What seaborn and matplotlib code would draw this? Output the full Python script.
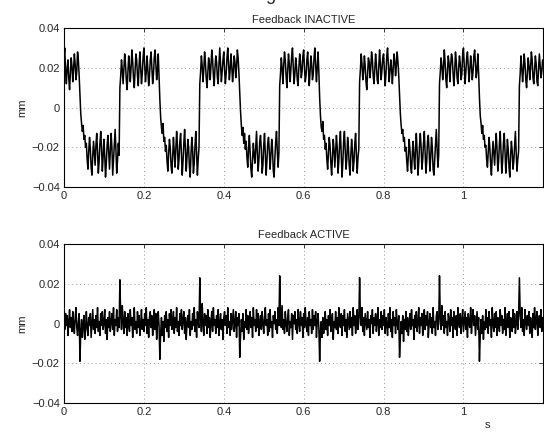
import numpy as np
import seaborn as sns
import matplotlib.pyplot as plt

# sampled every 2 ms, values read in micrometres
dt = 0.002

inactive_um = [
    26, 30, 18, 12, 20, 24, 15, 9, 17, 25,
    21, 13, 19, 27, 22, 14, 18, 28, 24, 16,
    6, -3, -8, -12, -9, -16, -14, -20, -18, -26,
    -31, -22, -15, -21, -30, -34, -24, -17, -23, -29,
    -19, -13, -22, -33, -27, -18, -12, -20, -32, -25,
    -16, -24, -35, -28, -19, -14, -23, -31, -22, -13,
    -20, -34, -26, -17, -11, -21, -33, -27, -18, -24,
    10, 16, 24, 19, 12, 20, 27, 22, 14, 9,
    18, 26, 21, 13, 20, 29, 23, 15, 10, 19,
    27, 24, 16, 11, 21, 28, 20, 12, 17, 25,
    30, 22, 13, 18, 26, 19, 11, 16, 24, 28,
    20, 12, 17, 25, 29, 21, 14, 19, 27, 15,
    4, -5, -10, -13, -8, -17, -15, -22, -19, -27,
    -32, -23, -16, -20, -29, -33, -25, -15, -22, -30,
    -21, -12, -19, -31, -26, -17, -13, -24, -34, -27,
    -18, -11, -22, -32, -25, -16, -20, -30, -35, -23,
    -15, -21, -33, -28, -19, -12, -23, -34, -26, -20,
    12, 18, 26, 21, 13, 19, 28, 23, 15, 10,
    17, 25, 22, 14, 21, 29, 24, 16, 11, 20,
    26, 23, 15, 12, 22, 30, 21, 13, 18, 24,
    28, 19, 12, 17, 25, 30, 22, 14, 19, 27,
    21, 13, 18, 26, 23, 15, 20, 29, 25, 17,
    7, -2, -9, -14, -10, -18, -13, -21, -17, -25,
    -30, -21, -14, -22, -31, -35, -26, -18, -24, -28,
    -20, -12, -23, -32, -26, -17, -14, -21, -33, -29,
    -19, -13, -24, -34, -27, -18, -15, -22, -31, -24,
    -16, -21, -32, -35, -25, -17, -12, -22, -30, -23,
    11, 17, 25, 20, 12, 21, 28, 24, 16, 10,
    18, 27, 22, 13, 19, 26, 30, 20, 12, 17,
    25, 21, 14, 11, 20, 27, 23, 15, 18, 26,
    29, 20, 13, 16, 24, 28, 19, 11, 18, 26,
    22, 14, 17, 25, 30, 21, 13, 20, 28, 18,
    5, -4, -10, -12, -7, -16, -14, -21, -18, -26,
    -31, -23, -15, -19, -28, -34, -25, -16, -21, -30,
    -22, -14, -20, -33, -27, -18, -12, -23, -35, -28,
    -17, -12, -21, -31, -26, -15, -20, -29, -34, -24,
    -16, -22, -32, -27, -18, -13, -24, -33, -25, -21,
    13, 19, 27, 22, 14, 18, 26, 21, 13, 9,
    17, 25, 23, 15, 20, 28, 24, 16, 12, 19,
    27, 22, 14, 12, 21, 29, 22, 14, 19, 25,
    27, 19, 11, 17, 26, 30, 21, 13, 18, 24,
    20, 12, 19, 27, 24, 16, 21, 28, 23, 16,
    6, -3, -9, -13, -11, -17, -15, -22, -20, -27,
    -32, -24, -16, -21, -30, -33, -23, -17, -25, -31,
    -21, -13, -22, -34, -28, -19, -13, -20, -31, -26,
    -18, -12, -23, -33, -27, -17, -14, -22, -32, -25,
    -15, -20, -31, -34, -26, -18, -11, -21, -30, -24,
    12, 18, 25, 21, 14, 20, 29, 23, 14, 10,
    19, 26, 22, 13, 21, 27, 25, 17, 11, 18,
    28, 23, 15, 12, 20, 26, 22, 14, 17, 27,
    30, 21, 12, 18, 25, 28, 20, 13, 19, 26,
    21, 14, 18, 26, 29, 22, 15, 19, 27, 17,
    5, -4, -8, -13, -9, -16, -14, -20, -19, -26,
    -30, -22, -15, -20, -29, -34, -24, -17, -23, -29,
    -20, -13, -21, -32, -27, -18, -12, -22, -33, -27,
    -18, -13, -22, -33, -26, -16, -21, -30, -35, -24,
    -17, -22, -31, -27, -19, -12, -23, -32, -26, -22,
    11, 17, 26, 20, 13, 19, 27, 22, 14, 10,
    18, 25, 21, 14, 20, 28, 24, 15, 12, 19,
    26, 22, 13, 11, 20, 27, 21, 15, 18, 24,
]

active_um = [
    2, -3, 5, -1, 4, -6, 1, 7, -2, 3,
    -4, 6, 0, -5, 3, 8, -2, -6, 1, 5,
    -19, -4, 2, -7, -1, 4, -8, -3, 6, -2,
    -6, 3, -1, 5, -7, 0, 7, -3, 2, -5,
    4, -2, 8, -4, 1, -6, 5, -1, 6, -3,
    0, 7, -5, 2, -8, 3, -2, 6, -4, 1,
    5, -3, 8, -6, 2, -1, 7, -4, 3, -2,
    22, 4, -3, 9, 1, -5, 6, -2, 3, -6,
    5, 0, -4, 7, -1, 3, -7, 2, 8, -3,
    1, -5, 6, -2, 4, -6, 0, 7, -3, 2,
    -4, 5, -1, 8, -5, 2, -7, 3, 6, -2,
    4, -6, 1, 7, -3, 5, -8, 0, 6, -1,
    -18, -5, 3, -6, 1, -9, 4, -2, 6, -4,
    2, -7, 5, -1, 7, -3, 0, 6, -5, 3,
    -2, 8, -4, 1, -6, 5, -1, 7, -3, 2,
    6, -5, 3, -8, 0, 4, -2, 7, -6, 1,
    -3, 5, -1, 8, -4, 2, -7, 6, 0, -2,
    23, 3, -4, 10, 0, -6, 5, -1, 4, -5,
    7, -2, 3, -7, 1, 6, -4, 8, -1, 2,
    -5, 4, -2, 7, -6, 0, 5, -3, 2, -8,
    3, 6, -1, 4, -5, 8, -2, 1, -6, 5,
    -3, 2, 7, -4, 0, 6, -7, 3, -1, 5,
    -17, -6, 2, -4, 5, -8, 1, -2, 7, -3,
    4, -5, 0, 6, -2, 3, -7, 8, -1, 2,
    -4, 7, -2, 5, -6, 1, 4, -3, 6, 0,
    -5, 3, 8, -1, 2, -6, 5, -4, 7, -2,
    1, -7, 4, 0, 6, -3, 2, -5, 8, -1,
    24, 5, -2, 9, -3, 2, -5, 6, 0, -4,
    3, 7, -6, 1, -2, 5, -8, 4, 0, 6,
    -3, 2, -5, 7, 1, -4, 6, -1, 3, -7,
    5, -2, 8, 0, -4, 3, -6, 6, -1, 2,
    -5, 7, -3, 4, -1, 6, -7, 1, 5, -2,
    -19, -4, 1, -7, 3, -5, 0, 6, -3, 2,
    -6, 4, -1, 7, -4, 2, 5, -8, 1, -2,
    6, -3, 3, -5, 8, 0, -2, 5, -6, 4,
    -1, 7, -4, 2, -7, 5, 1, -3, 6, -2,
    3, -6, 8, -1, 4, -5, 0, 7, -3, 1,
    23, 4, -1, 8, -4, 3, -6, 5, 1, -3,
    6, -2, 2, -7, 4, 0, 7, -5, 3, -1,
    5, -4, 1, 8, -6, 2, -2, 6, -3, 4,
    -1, 7, -5, 3, 0, -6, 5, -2, 8, -4,
    2, -7, 6, -1, 3, -5, 7, 0, -3, 4,
    -17, -7, 1, -5, 4, -9, 2, -3, 6, -4,
    3, -6, 0, 5, -3, 7, -1, 2, -8, 4,
    -2, 6, -4, 1, 8, -5, 3, -1, 5, -6,
    2, 7, -3, 4, -1, 6, -7, 0, 5, -2,
    3, -5, 8, -2, 1, -6, 4, 6, -3, 0,
    24, 3, -3, 9, -1, 4, -5, 6, -2, 1,
    -6, 5, 2, -4, 7, -1, 3, -7, 6, 0,
    -3, 4, -6, 8, 1, -2, 5, -5, 2, 7,
    -4, 1, 6, -3, 3, -7, 5, 0, -2, 8,
    -5, 2, 7, -1, 4, -6, 0, 6, -3, 3,
    -19, -6, 2, -5, 4, -8, 1, -3, 7, -2,
    3, -5, 6, -1, 2, -7, 8, 0, -4, 5,
    -2, 6, -6, 3, 1, -4, 7, -1, 4, -5,
    2, -3, 8, -6, 0, 5, -2, 6, -7, 3,
    1, -4, 7, -2, 5, -5, 0, 6, -3, 4,
    23, 5, -2, 8, -4, 2, -6, 7, 1, -3,
    4, -1, 6, -5, 3, 0, -7, 5, -2, 8,
    -3, 2, 6, -6, 1, 4, -2, 7, -4, 3,
]

titles = ["Feedback INACTIVE", "Feedback ACTIVE"]
xticks = [0, 0.2, 0.4, 0.6, 0.8, 1.0]
xticklabels = ["0", "0.2", "0.4", "0.6", "0.8", "1"]
yticks = [-0.04, -0.02, 0, 0.02, 0.04]
yticklabels = ["\u22120.04", "\u22120.02", "0", "0.02", "0.04"]

t = np.arange(len(inactive_um)) * dt

sns.set_style("white")
plt.rcParams["font.family"] = ["Liberation Sans", "DejaVu Sans"]

fig = plt.figure(figsize=(5.44, 4.32), dpi=100)
ax1 = fig.add_axes([0.1176, 0.567, 0.8805, 0.368])
ax2 = fig.add_axes([0.1176, 0.0671, 0.8805, 0.368])

for ax, vals, title in zip([ax1, ax2], [inactive_um, active_um], titles):
    y = np.array(vals) / 1000.0
    sns.lineplot(x=t, y=y, ax=ax, color="black", linewidth=1.1)
    ax.set_xlim(0, 1.199)
    ax.set_ylim(-0.04, 0.04)
    ax.set_xticks(xticks)
    ax.set_xticklabels(xticklabels)
    ax.set_yticks(yticks)
    ax.set_yticklabels(yticklabels)
    ax.grid(True, color="#999999", linestyle=(0, (1, 3)), linewidth=0.7)
    ax.tick_params(direction="in", length=3, width=0.6, labelsize=8,
                   top=True, right=True, pad=3)
    for s in ax.spines.values():
        s.set_linewidth(0.8)
        s.set_color("black")
    ax.set_title(title, fontsize=8, pad=4)
    ax.set_ylabel("mm", fontsize=8, labelpad=3)

ax2.text(1.059, -0.0512, "s", fontsize=8, ha="center", va="center")
fig.text(0.497, 1.0, "g", fontsize=13, ha="center", va="baseline")

fig.savefig("out.png", dpi=100)
